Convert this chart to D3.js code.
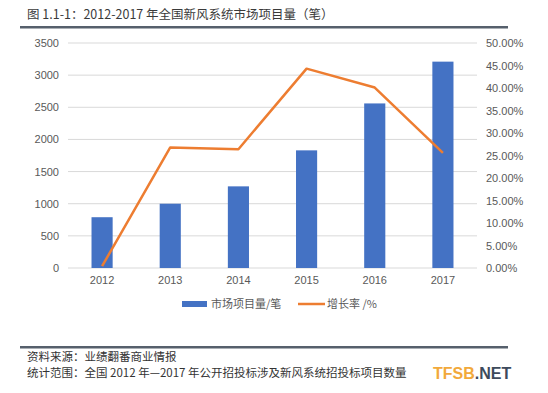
<!DOCTYPE html>
<html>
<head>
<meta charset="utf-8">
<script src="https://cdn.jsdelivr.net/npm/d3@7"></script>
<style>
  body { margin: 0; background: #fff; }
  svg text { font-family: "Noto Sans CJK SC", "Liberation Sans", sans-serif; }
  svg .tick text { font-family: "Liberation Sans", Arial, sans-serif; }
  svg .logo { font-family: "Liberation Sans", Arial, sans-serif; }
</style>
</head>
<body>
<div id="chart"></div>
<script>
// data
var years = ["2012", "2013", "2014", "2015", "2016", "2017"];
var counts = [790, 1000, 1270, 1830, 2560, 3210];
var growth = [0.004, 0.268, 0.264, 0.443, 0.401, 0.256];
var leftTicks = [0, 500, 1000, 1500, 2000, 2500, 3000, 3500];
var rightTicks = [0, 0.05, 0.1, 0.15, 0.2, 0.25, 0.3, 0.35, 0.4, 0.45, 0.5];

var svgWidth = 548;
var svgHeight = 393;
var margin = { top: 43, right: 71, bottom: 125, left: 68 };
var width = svgWidth - margin.left - margin.right;
var height = svgHeight - margin.top - margin.bottom;

var svg = d3.select("#chart").append("svg")
    .attr("width", svgWidth)
    .attr("height", svgHeight);

// title + rules
svg.append("text")
    .attr("x", 27).attr("y", 19)
    .attr("font-size", 12.5).attr("fill", "#3a3a3a")
    .text("图 1.1-1：2012-2017 年全国新风系统市场项目量（笔）");
svg.append("rect").attr("x", 20).attr("y", 26).attr("width", 488).attr("height", 2.5).attr("fill", "#56606c");
svg.append("rect").attr("x", 20).attr("y", 346).attr("width", 488).attr("height", 2.5).attr("fill", "#56606c");

var chartGroup = svg.append("g")
    .attr("transform", "translate(" + margin.left + "," + margin.top + ")");

var xScale = d3.scaleBand().domain(years).range([0, width]).paddingInner(0.69).paddingOuter(0.345);
var xPoint = function(d) { return xScale(d) + xScale.bandwidth() / 2; };
var yLeft = d3.scaleLinear().domain([0, 3500]).range([height, 0]);
var yRight = d3.scaleLinear().domain([0, 0.5]).range([height, 0]);

// gridlines
chartGroup.append("g")
    .selectAll("line")
    .data(leftTicks)
    .join("line")
    .attr("x1", 0).attr("x2", width)
    .attr("y1", function(d) { return yLeft(d); })
    .attr("y2", function(d) { return yLeft(d); })
    .attr("stroke", "#d9d9d9").attr("stroke-width", 1);

// axes
var leftAxis = d3.axisLeft(yLeft).tickValues(leftTicks).tickSize(0).tickPadding(9).tickFormat(d3.format("d"));
var rightAxis = d3.axisRight(yRight).tickValues(rightTicks).tickSize(0).tickPadding(9)
    .tickFormat(function(d) { return d3.format(".2f")(d * 100) + "%"; });
var bottomAxis = d3.axisBottom(xScale).tickSize(0).tickPadding(8);

var gl = chartGroup.append("g").call(leftAxis);
var gr = chartGroup.append("g").attr("transform", "translate(" + width + ",0)").call(rightAxis);
var gb = chartGroup.append("g").attr("transform", "translate(0," + height + ")").call(bottomAxis);
[gl, gr, gb].forEach(function(g) {
    g.select(".domain").remove();
    g.selectAll("text").attr("fill", "#595959").attr("font-size", 11);
});

// bars
chartGroup.selectAll(".bar")
    .data(counts)
    .join("rect")
    .attr("class", "bar")
    .attr("x", function(d, i) { return xScale(years[i]); })
    .attr("y", function(d) { return yLeft(d); })
    .attr("width", xScale.bandwidth())
    .attr("height", function(d) { return height - yLeft(d); })
    .attr("fill", "#4472c4");

// growth line
var line = d3.line()
    .x(function(d, i) { return xPoint(years[i]); })
    .y(function(d) { return yRight(d); });
chartGroup.append("path")
    .datum(growth)
    .attr("d", line)
    .attr("fill", "none")
    .attr("stroke", "#ed7d31")
    .attr("stroke-width", 2.5)
    .attr("stroke-linejoin", "round");

// legend
var legend = svg.append("g").attr("transform", "translate(0,304)");
legend.append("rect").attr("x", 182).attr("y", -3).attr("width", 25).attr("height", 6).attr("fill", "#4472c4");
legend.append("text").attr("x", 211).attr("y", 4).attr("font-size", 11).attr("fill", "#595959").text("市场项目量/笔");
legend.append("line").attr("x1", 298).attr("x2", 325).attr("y1", 0).attr("y2", 0)
    .attr("stroke", "#ed7d31").attr("stroke-width", 2.5);
legend.append("text").attr("x", 327).attr("y", 4).attr("font-size", 11).attr("fill", "#595959").text("增长率 /%");

// footer
svg.append("text").attr("x", 27).attr("y", 361).attr("font-size", 11.5).attr("fill", "#333")
    .text("资料来源：业绩翻番商业情报");
svg.append("text").attr("x", 27).attr("y", 377).attr("font-size", 11.5).attr("fill", "#333")
    .text("统计范围：全国 2012 年—2017 年公开招投标涉及新风系统招投标项目数量");
var logo = svg.append("text").attr("class", "logo").attr("x", 433).attr("y", 379)
    .attr("font-size", 16).attr("font-weight", "bold");
logo.append("tspan").attr("fill", "#f2a93b").text("TFSB");
logo.append("tspan").attr("fill", "#3d4a5c").text(".NET");
</script>
</body>
</html>
